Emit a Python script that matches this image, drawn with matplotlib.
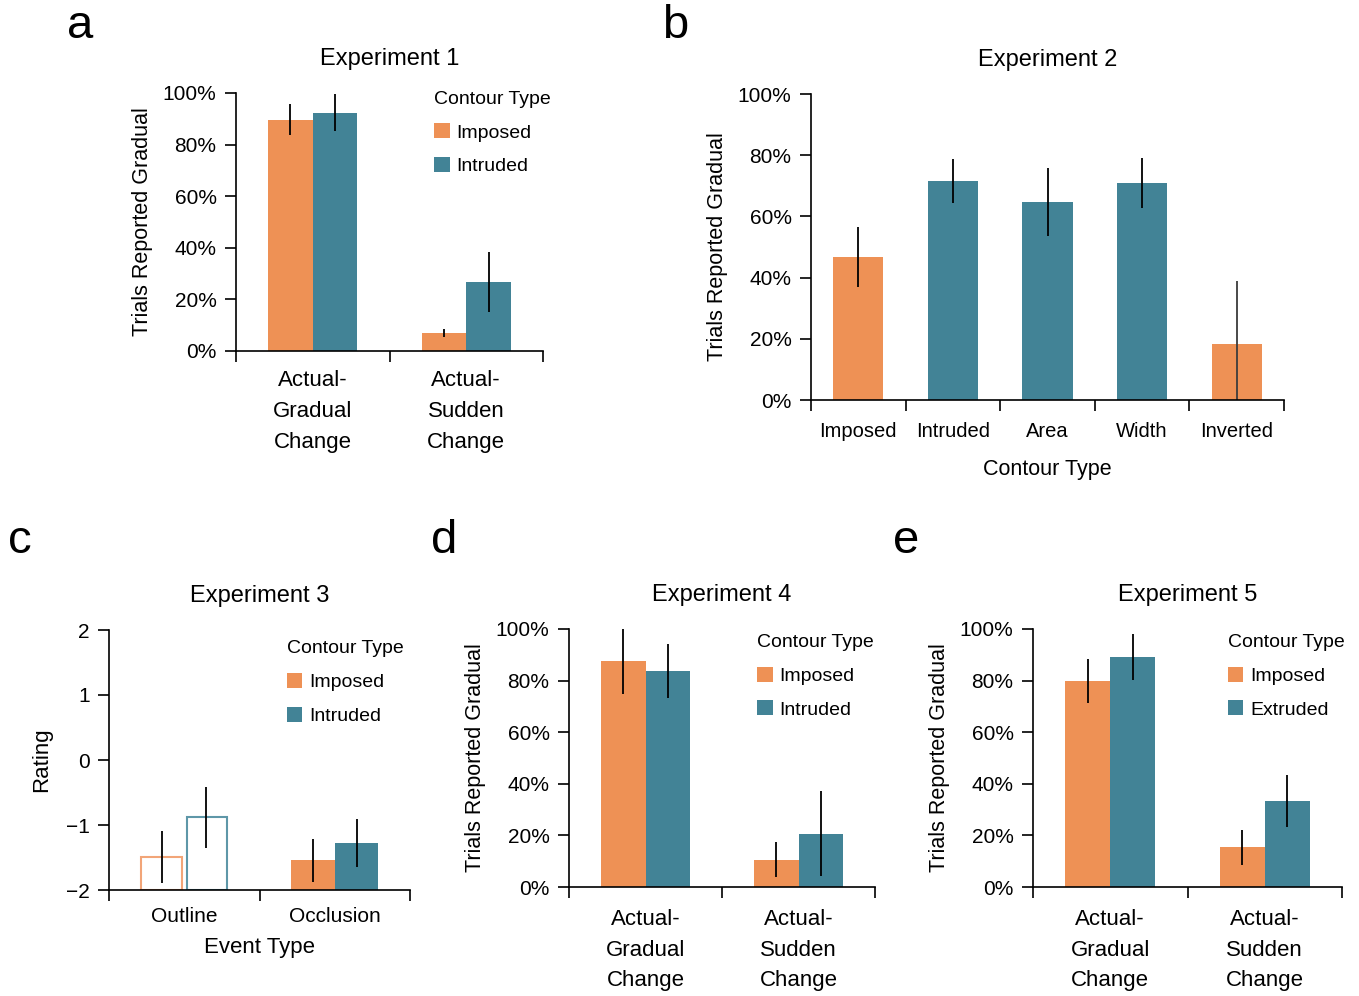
import numpy as np
import matplotlib
matplotlib.use("Agg")
import matplotlib.pyplot as plt
from matplotlib.patches import Patch

plt.rcParams['font.family'] = ['Liberation Sans', 'DejaVu Sans']

ORANGE = "#EE9155"
TEAL = "#428396"

# experiment 1 (panel a)
exp1_groups = ["Actual-\nGradual\nChange", "Actual-\nSudden\nChange"]
exp1_imposed = [0.896, 0.069]
exp1_imposed_err = [0.06, 0.015]
exp1_intruded = [0.923, 0.267]
exp1_intruded_err = [0.072, 0.117]

# experiment 2 (panel b)
exp2_types = ["Imposed", "Intruded", "Area", "Width", "Inverted"]
exp2_vals = [0.467, 0.716, 0.647, 0.709, 0.183]
exp2_err = [0.097, 0.073, 0.11, 0.083, 0.207]
exp2_kind = ["imposed", "intruded", "intruded", "intruded", "imposed"]

# experiment 3 (panel c)
exp3_groups = ["Outline", "Occlusion"]
exp3_imposed = [-1.49, -1.54]
exp3_imposed_err = [0.40, 0.33]
exp3_intruded = [-0.88, -1.28]
exp3_intruded_err = [0.47, 0.37]

# experiment 4 (panel d)
exp4_groups = ["Actual-\nGradual\nChange", "Actual-\nSudden\nChange"]
exp4_imposed = [0.877, 0.106]
exp4_imposed_err = [0.129, 0.068]
exp4_intruded = [0.838, 0.207]
exp4_intruded_err = [0.105, 0.164]

# experiment 5 (panel e)
exp5_groups = ["Actual-\nGradual\nChange", "Actual-\nSudden\nChange"]
exp5_imposed = [0.799, 0.154]
exp5_imposed_err = [0.085, 0.068]
exp5_extruded = [0.892, 0.333]
exp5_extruded_err = [0.09, 0.101]

pct_ticks = [0, 0.2, 0.4, 0.6, 0.8, 1.0]
pct_labels = ["0%", "20%", "40%", "60%", "80%", "100%"]

TICK_FS = 15
LABEL_FS = 15.5
GROUP_FS = 16
LEG_FS = 14
TITLE_FS = 17

fig = plt.figure(figsize=(13.59, 9.96), dpi=100)


def px_axes(l, t, r, b):
    W, H = 1359, 996
    return fig.add_axes([l / W, 1 - b / H, (r - l) / W, (b - t) / H])


def style(ax, n, title, xpad=16, xfs=GROUP_FS):
    for s in ["top", "right"]:
        ax.spines[s].set_visible(False)
    ax.spines["left"].set_linewidth(1.2)
    ax.spines["bottom"].set_linewidth(1.2)
    ax.set_xlim(0, n)
    ax.set_xticks(np.arange(n + 1))
    ax.set_xticklabels([""] * (n + 1))
    ax.tick_params(axis="x", which="major", direction="out", length=8, width=1.2)
    ax.tick_params(axis="y", direction="out", length=8, width=1.2, labelsize=TICK_FS, pad=6)
    ax.tick_params(axis="x", which="minor", length=0, labelsize=xfs, pad=xpad)
    ax.set_title(title, fontsize=TITLE_FS, pad=20)


def add_legend(ax, labels, x, y):
    handles = [Patch(facecolor=ORANGE, edgecolor="none"), Patch(facecolor=TEAL, edgecolor="none")]
    leg = ax.legend(handles, labels, title="Contour Type", loc="upper left",
                    bbox_to_anchor=(x, y), frameon=False, fontsize=LEG_FS,
                    title_fontsize=LEG_FS, handlelength=0.8, handleheight=0.8,
                    handletextpad=0.35, labelspacing=0.8, borderpad=0, borderaxespad=0,
                    alignment="left")
    return leg


def grouped(ax, groups, s1, e1, s2, e2, w=0.29):
    x = np.arange(len(groups)) + 0.5
    ax.bar(x - w / 2, s1, w, color=ORANGE)
    ax.bar(x + w / 2, s2, w, color=TEAL)
    ax.errorbar(x - w / 2, s1, yerr=e1, fmt="none", ecolor="black", elinewidth=1.3)
    ax.errorbar(x + w / 2, s2, yerr=e2, fmt="none", ecolor="black", elinewidth=1.3)
    ax.set_xticks(x, minor=True)
    ax.set_xticklabels(groups, minor=True, linespacing=1.6)


def pct_axis(ax):
    ax.set_ylim(0, 1)
    ax.set_yticks(pct_ticks)
    ax.set_yticklabels(pct_labels)


# panel a
ax = px_axes(236, 93, 543, 351)
style(ax, 2, "Experiment 1", xpad=14)
grouped(ax, exp1_groups, exp1_imposed, exp1_imposed_err, exp1_intruded, exp1_intruded_err)
pct_axis(ax)
ax.set_ylabel("Trials Reported Gradual", fontsize=LABEL_FS, va="center")
ax.yaxis.set_label_coords((143 - 236) / 307, 0.5)
add_legend(ax, ["Imposed", "Intruded"], 0.645, 1.008)

# panel b
ax = px_axes(811, 94, 1284, 400)
style(ax, 5, "Experiment 2", xpad=16, xfs=14.5)
xb = np.arange(len(exp2_types)) + 0.5
cols = [ORANGE if k == "imposed" else TEAL for k in exp2_kind]
ax.bar(xb, exp2_vals, 0.53, color=cols)
err_cols = ["black", "black", "black", "black", "#3c3c3c"]
ax.vlines(xb, np.array(exp2_vals) - np.array(exp2_err), np.array(exp2_vals) + np.array(exp2_err),
          colors=err_cols, linewidth=1.3)
ax.set_xticks(xb, minor=True)
ax.set_xticklabels(exp2_types, minor=True)
pct_axis(ax)
ax.set_ylabel("Trials Reported Gradual", fontsize=LABEL_FS, va="center")
ax.yaxis.set_label_coords((718 - 811) / 473, 0.5)
ax.set_xlabel("Contour Type", fontsize=LABEL_FS, va="center")
ax.xaxis.set_label_coords(0.5, (400 - 469) / 306)

# panel c
ax = px_axes(109, 630, 410, 890)
style(ax, 2, "Experiment 3", xpad=12, xfs=TICK_FS)
xc = np.arange(len(exp3_groups)) + 0.5
w = 0.29
base = -2
# outline condition drawn as open bars, occlusion as filled
ax.bar(xc[0] - w / 2 - 0.005, exp3_imposed[0] - base, w - 0.02, bottom=base,
       facecolor="white", edgecolor="#F2A578", linewidth=1.5)
ax.bar(xc[0] + w / 2 + 0.005, exp3_intruded[0] - base, w - 0.02, bottom=base,
       facecolor="white", edgecolor="#5E97A8", linewidth=1.5)
ax.bar(xc[1] - w / 2, exp3_imposed[1] - base, w, bottom=base, color=ORANGE)
ax.bar(xc[1] + w / 2, exp3_intruded[1] - base, w, bottom=base, color=TEAL)
ax.errorbar(xc - w / 2, exp3_imposed, yerr=exp3_imposed_err, fmt="none", ecolor="black", elinewidth=1.3)
ax.errorbar(xc + w / 2, exp3_intruded, yerr=exp3_intruded_err, fmt="none", ecolor="black", elinewidth=1.3)
ax.set_xticks(xc, minor=True)
ax.set_xticklabels(exp3_groups, minor=True)
ax.set_ylim(-2, 2)
ax.set_yticks([-2, -1, 0, 1, 2])
ax.set_ylabel("Rating", fontsize=LABEL_FS + 0.5, va="center")
ax.yaxis.set_label_coords((42 - 109) / 301, 0.5)
ax.set_xlabel("Event Type", fontsize=LABEL_FS + 0.5, va="center")
ax.xaxis.set_label_coords(0.5, (890 - 947) / 260)
add_legend(ax, ["Imposed", "Intruded"], 0.59, 0.96)

# panel d
ax = px_axes(569, 629, 875, 887)
style(ax, 2, "Experiment 4", xpad=16)
grouped(ax, exp4_groups, exp4_imposed, exp4_imposed_err, exp4_intruded, exp4_intruded_err)
pct_axis(ax)
ax.set_ylabel("Trials Reported Gradual", fontsize=LABEL_FS, va="center")
ax.yaxis.set_label_coords((476 - 569) / 306, 0.5)
add_legend(ax, ["Imposed", "Intruded"], 0.615, 0.98)

# panel e
ax = px_axes(1033, 629, 1342, 887)
style(ax, 2, "Experiment 5", xpad=16)
grouped(ax, exp5_groups, exp5_imposed, exp5_imposed_err, exp5_extruded, exp5_extruded_err)
pct_axis(ax)
ax.set_ylabel("Trials Reported Gradual", fontsize=LABEL_FS, va="center")
ax.yaxis.set_label_coords((940 - 1033) / 309, 0.5)
add_legend(ax, ["Imposed", "Extruded"], 0.63, 0.98)

# panel letters
for letter, x, y in [("a", 80, 26), ("b", 675, 26), ("c", 20, 541), ("d", 444, 541), ("e", 906, 541)]:
    fig.text(x / 1359, 1 - y / 996, letter, fontsize=34, ha="center", va="center")

fig.savefig("out.png", dpi=100)
